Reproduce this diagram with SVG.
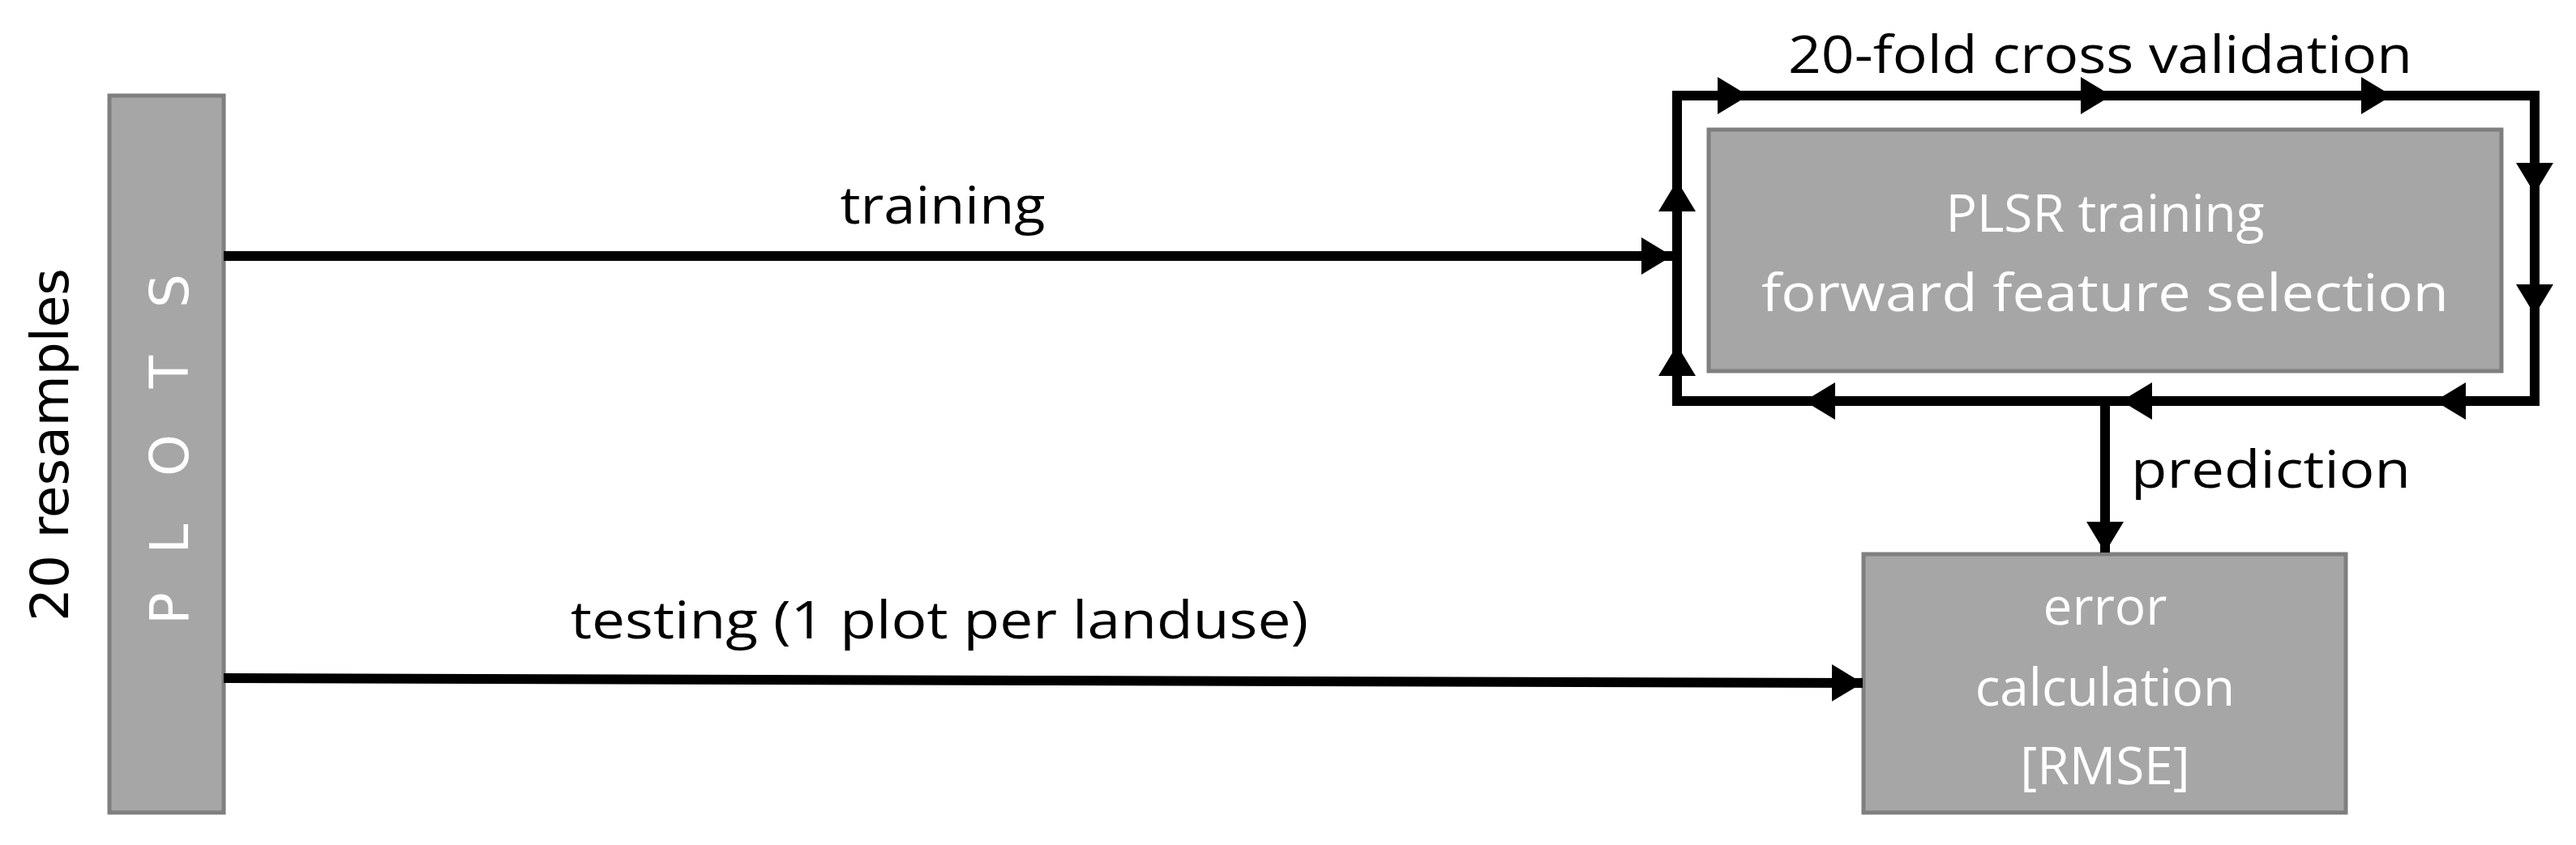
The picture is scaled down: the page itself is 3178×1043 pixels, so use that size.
<svg xmlns="http://www.w3.org/2000/svg" width="3178" height="1043" viewBox="0 0 3178 1043">
<style>
.box{fill:#a6a6a6;stroke:#7f7f7f;stroke-width:5}
.ln{stroke:#000;stroke-width:12;fill:none}
.t{font-family:"Open Sans","Liberation Sans",sans-serif;font-size:64px;fill:#000}
.w{fill:#fff;text-anchor:middle}
</style>
<defs>
<marker id="ah" markerUnits="userSpaceOnUse" markerWidth="40" markerHeight="50" refX="38" refY="25" orient="auto"><path d="M0,2 L38,25 L0,48 Z" fill="#000"/></marker>
</defs>
<rect width="3178" height="1043" fill="#fff"/>
<g id="plots">
<rect class="box" x="135" y="118" width="141" height="885"/>
<g font-family="DejaVu Sans,sans-serif" font-size="66" fill="#fff" text-anchor="middle">
<text transform="translate(232,751) rotate(-90)">P</text>
<text transform="translate(232,665) rotate(-90)">L</text>
<text transform="translate(232,562) rotate(-90)">O</text>
<text transform="translate(232,459) rotate(-90)">T</text>
<text transform="translate(232,359) rotate(-90)">S</text>
</g>
</g>
<text transform="translate(84,549) rotate(-90)" font-family="DejaVu Sans,sans-serif" font-size="64" text-anchor="middle" textLength="436" lengthAdjust="spacingAndGlyphs">20 resamples</text>
<g id="plsr">
<rect class="box" x="2108" y="160" width="978" height="298"/>
<text class="t w" x="2597" y="286" font-size="66">PLSR training</text>
<text class="t w" x="2597" y="384" font-size="66" textLength="848" lengthAdjust="spacingAndGlyphs">forward feature selection</text>
</g>
<g id="error">
<rect class="box" x="2299" y="684" width="595" height="319"/>
<text class="t w" x="2597" y="771" font-size="66">error</text>
<text class="t w" x="2597" y="871" font-size="66">calculation</text>
<text class="t w" x="2597" y="968" font-size="66">[RMSE]</text>
</g>
<g id="connectors">
<line class="ln" x1="276" y1="316" x2="2063" y2="316" marker-end="url(#ah)"/>
<path class="ln" d="M276,837 L1300,840 L2298,843" marker-end="url(#ah)"/>
<line class="ln" x1="2597" y1="495" x2="2597" y2="682" marker-end="url(#ah)"/>
<rect class="ln" x="2069" y="118" width="1058" height="377"/>
<line class="ln" x1="2069" y1="118" x2="2157" y2="118" marker-end="url(#ah)"/>
<line class="ln" x1="2157" y1="118" x2="2605" y2="118" marker-end="url(#ah)"/>
<line class="ln" x1="2605" y1="118" x2="2951" y2="118" marker-end="url(#ah)"/>
<line class="ln" x1="3127" y1="118" x2="3127" y2="239" marker-end="url(#ah)"/>
<line class="ln" x1="3127" y1="239" x2="3127" y2="389" marker-end="url(#ah)"/>
<line class="ln" x1="3127" y1="495" x2="3004" y2="495" marker-end="url(#ah)"/>
<line class="ln" x1="3004" y1="495" x2="2617" y2="495" marker-end="url(#ah)"/>
<line class="ln" x1="2617" y1="495" x2="2226" y2="495" marker-end="url(#ah)"/>
<line class="ln" x1="2069" y1="495" x2="2069" y2="426" marker-end="url(#ah)"/>
<line class="ln" x1="2069" y1="426" x2="2069" y2="223" marker-end="url(#ah)"/>
</g>
<text class="t" x="1163" y="276" text-anchor="middle" textLength="253" lengthAdjust="spacingAndGlyphs">training</text>
<text class="t" x="704" y="788" textLength="910" lengthAdjust="spacingAndGlyphs">testing (1 plot per landuse)</text>
<text class="t" x="2629" y="602" textLength="345" lengthAdjust="spacingAndGlyphs">prediction</text>
<text class="t" x="2206" y="90" textLength="770" lengthAdjust="spacingAndGlyphs">20-fold cross validation</text>
</svg>
